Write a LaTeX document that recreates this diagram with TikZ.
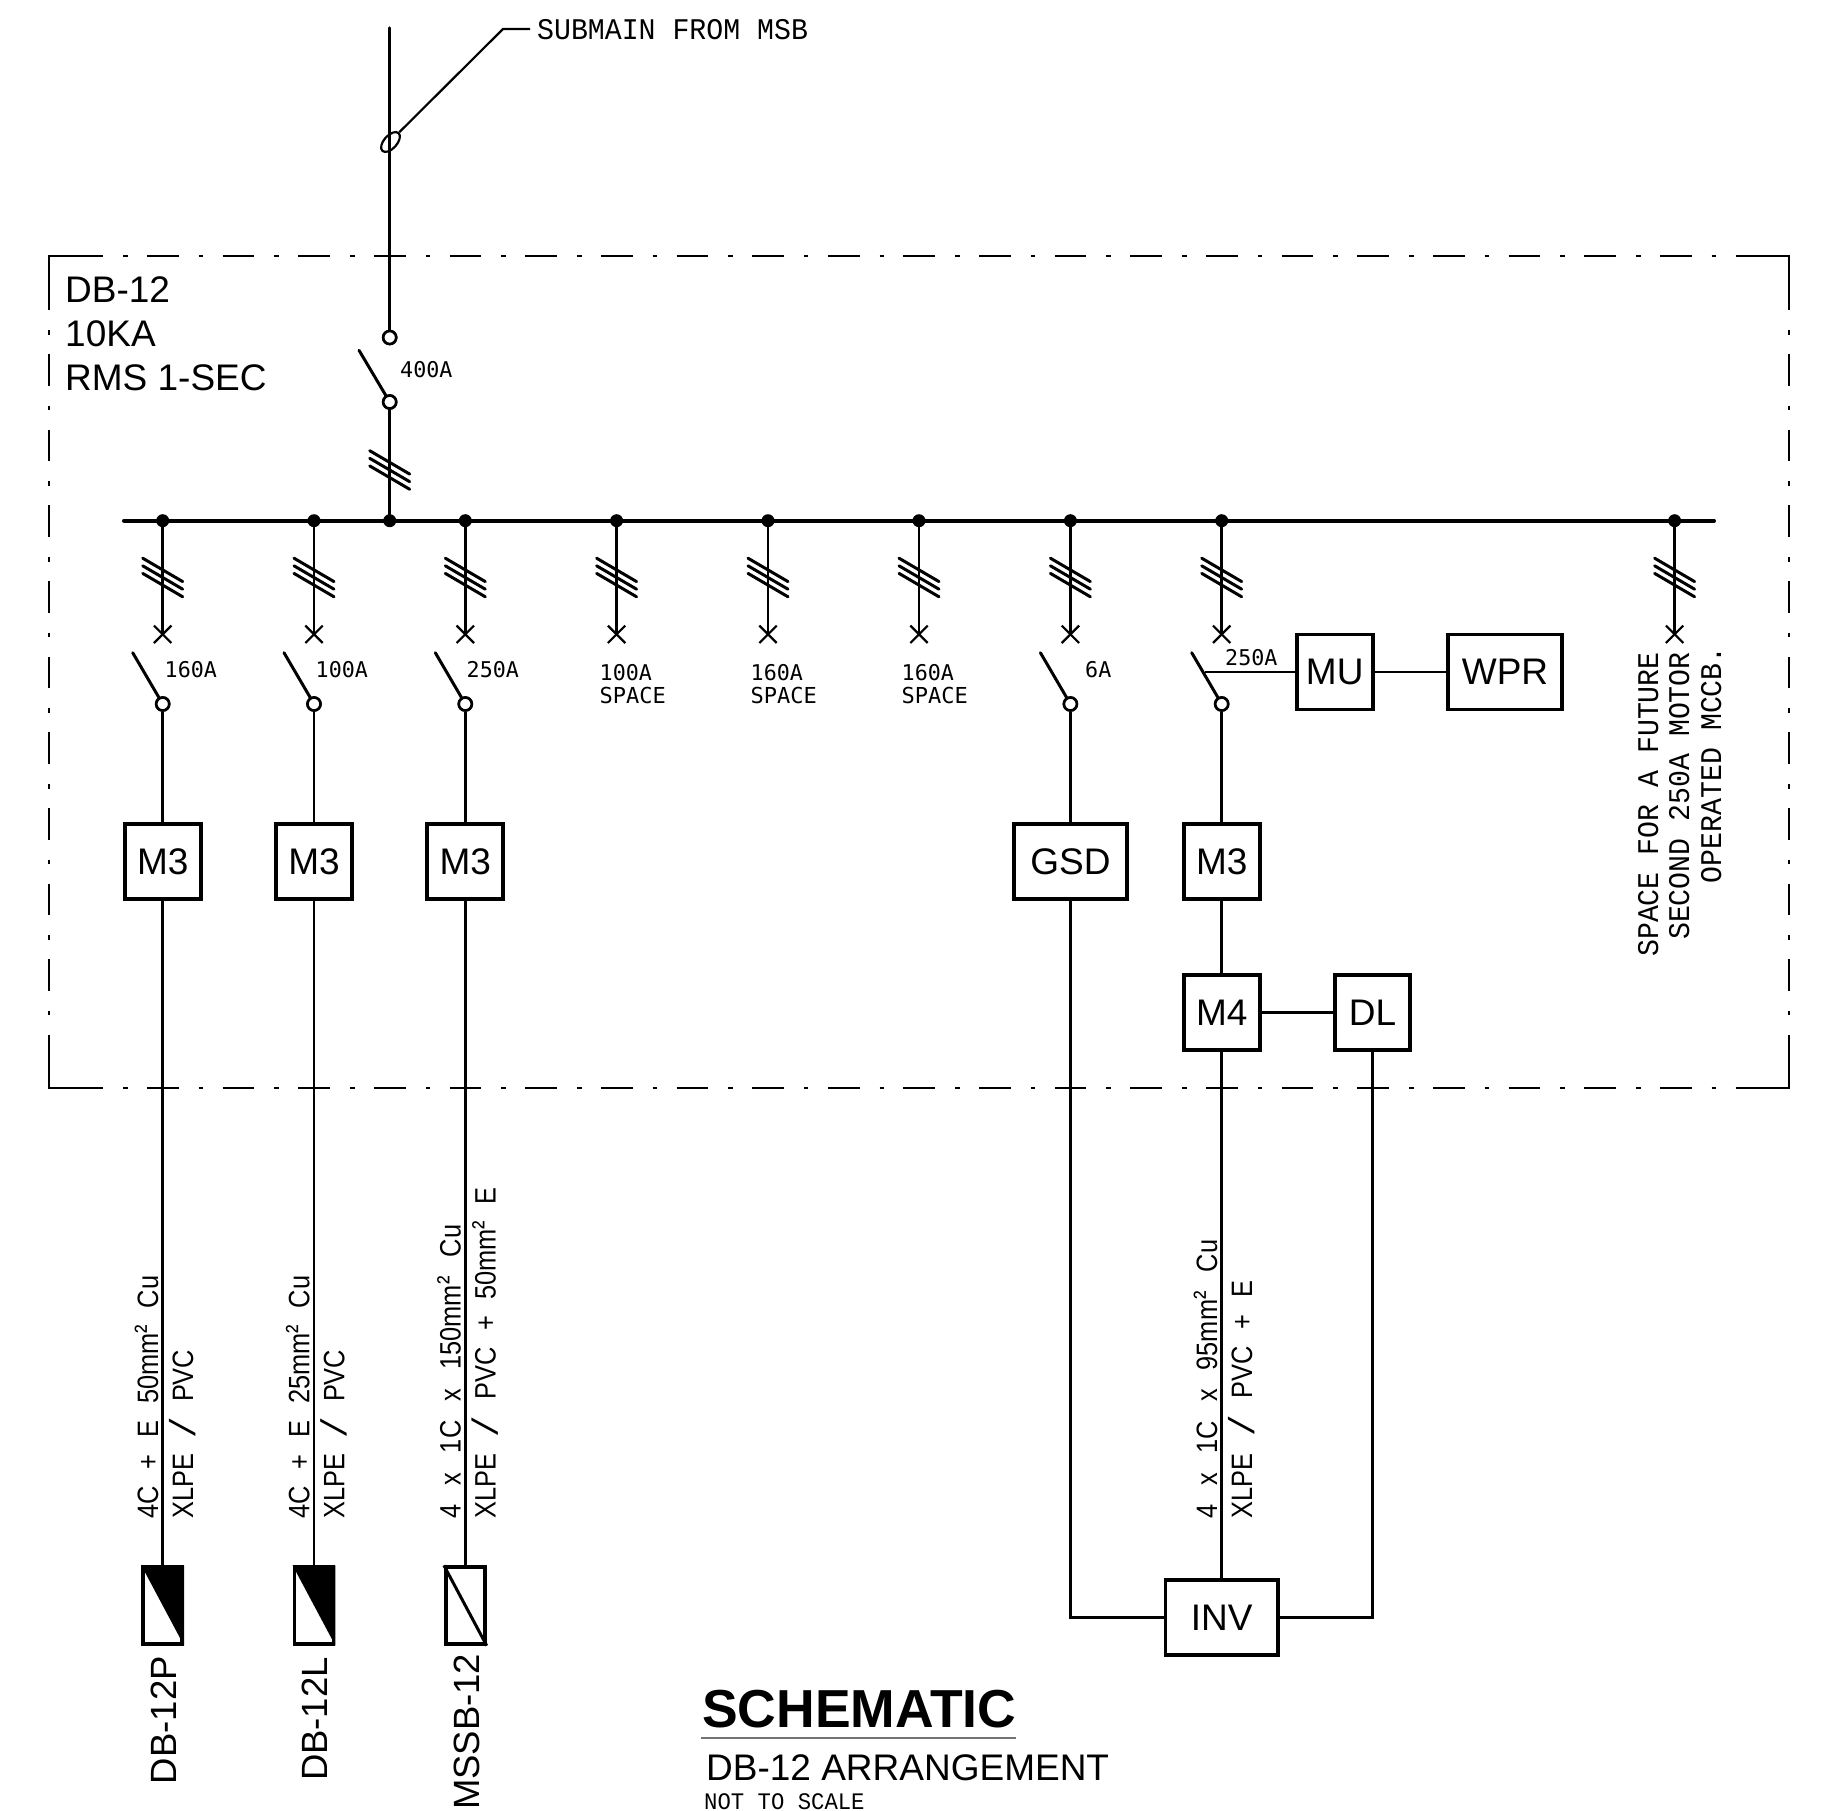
\documentclass[tikz,border=0pt]{standalone}
\usepackage{fontspec}
\usetikzlibrary{shapes.geometric,calc}
\setmainfont{Liberation Sans}
\newfontfamily\cadfont{DejaVu Sans Mono}
\newfontfamily\thinfont[FakeStretch=0.94]{Liberation Mono}
\newfontfamily\slashfont{Liberation Mono}
\newfontfamily\narrowfont[FakeStretch=0.86]{Liberation Sans}
\newcommand{\fs}[1]{\fontsize{#1}{#1}\selectfont}
\newcommand{\cabtext}[2]{\makebox[#1pt][s]{#2}}
\newcommand{\bigslash}{\raisebox{-2pt}{\slashfont\fs{36}/}}
\newcommand{\sqr}{\raisebox{3pt}{²}}
\tikzset{
  x=1pt,y=-1pt,
  panelline/.style={line width=2pt,dash pattern=on 31.7pt off 20pt on 4.6pt off 19.35pt},
  panelstub/.style={line width=2pt},
  busbar/.style={line width=4pt,line cap=round},
  mainfeed/.style={line width=3.5pt,line cap=round},
  feeder/.style={line width=2.6pt},
  slash/.style={line width=3pt,line cap=round},
  blade/.style={line width=3pt,line cap=round},
  xmark/.style={line width=2.2pt},
  busdot/.style={circle,fill=black,inner sep=0pt,minimum size=13pt},
  swdot/.style={circle,draw=black,fill=white,line width=2.6pt,inner sep=0pt,minimum size=13pt},
  devbox/.style={draw=black,fill=white,line width=3.8pt,inner sep=0pt,minimum height=75pt,font=\fs{37}},
  termbox/.style={draw=black,fill=white,line width=3.8pt,inner sep=0pt,minimum width=39pt,minimum height=76.5pt},
  cadsmall/.style={inner sep=0pt,font=\cadfont\fs{21.7},anchor=base west},
  cadbig/.style={inner sep=0pt,font=\thinfont\fs{30}},
  cable/.style={inner sep=0pt,rotate=90,anchor=base west,font=\narrowfont\fs{29.5}},
  dblabel/.style={inner sep=0pt,rotate=90,anchor=base east,font=\fs{36.5}},
  boardtext/.style={inner sep=0pt,anchor=base west,font=\fs{37}},
}
\begin{document}
\begin{tikzpicture}
\useasboundingbox (0,0) rectangle (1826,1811);

% panel outline
\coordinate (pTL) at (49,256);
\coordinate (pTR) at (1788.5,256);
\coordinate (pBR) at (1788.5,1088);
\coordinate (pBL) at (49,1088);
\draw[panelstub,line cap=rect] ($(pBL)+(0,-30)$) -- (pBL) -- ($(pBL)+(30,0)$);
\draw[panelstub,line cap=rect] ($(pTL)+(0,30)$) -- (pTL) -- ($(pTL)+(30,0)$);
\draw[panelstub,line cap=rect] ($(pTR)+(0,30)$) -- (pTR) -- ($(pTR)+(-30,0)$);
\draw[panelstub,line cap=rect] ($(pBR)+(0,-30)$) -- (pBR) -- ($(pBR)+(-30,0)$);
\draw[panelline] ($(pTL)+(22.3,0)$) -- ($(pTR)+(-20,0)$);
\draw[panelline] ($(pBL)+(22.3,0)$) -- ($(pBR)+(-20,0)$);
\draw[panelline] ($(pTL)+(0,22.3)$) -- ($(pBL)+(0,-20)$);
\draw[panelline] ($(pTR)+(0,22.3)$) -- ($(pBR)+(0,-20)$);

% incoming
\coordinate (top) at (389.7,28);
\node[swdot] (inA) at (389.7,337.5) {};
\node[swdot] (inB) at (389.7,402) {};
\coordinate (bus) at (389.7,520.7);
\draw[mainfeed] (top) -- (inA);
\draw[mainfeed] (inB) -- (bus);
\draw[blade] ($(inB)+(-30.7,-51.7)$) -- (inB);
\node[swdot] at (inB) {};
\node[swdot] at (inA) {};
\node[draw=black,line width=2.2pt,ellipse,rotate=48,minimum width=24pt,minimum height=13pt,inner sep=0pt] (ct) at (390.5,142) {};
\coordinate (knee) at (503,29);
\coordinate (leadend) at (530,29);
\draw[line width=2.2pt] (ct.east) -- (knee) -- (leadend);
\foreach \d in {-7.6,0,7.6}{\draw[slash] ($(389.7,470)+(-20,-11.7+\d)$) -- ($(389.7,470)+(20,11.7+\d)$);}
\node[cadbig,anchor=base west] (lead) at (537,40) {SUBMAIN FROM MSB};
\node[cadsmall] (l400) at (400,377) {400A};

% bus
\coordinate (busL) at (124,520.7);
\coordinate (busR) at (1714,520.7);
\draw[busbar] (busL) -- (busR);
\node[busdot] (dot0) at (bus) {};

% branches
\foreach \n/\xx in {1/162.7,2/314,3/465.3,4/616.6,5/768,6/919,7/1070.4,8/1221.7,9/1674.6}{
  \node[busdot] (dot\n) at (\xx,520.7) {};
  \coordinate (xm\n) at (\xx,634.3);
  \draw[feeder] (dot\n) -- (xm\n);
  \draw[xmark] ($(xm\n)+(-8.7,-8.7)$) -- ($(xm\n)+(8.7,8.7)$);
  \draw[xmark] ($(xm\n)+(8.7,-8.7)$) -- ($(xm\n)+(-8.7,8.7)$);
  \foreach \d in {-7.6,0,7.6}{\draw[slash] ($(\xx,577.5)+(-20,-11.7+\d)$) -- ($(\xx,577.5)+(20,11.7+\d)$);}
}
% switches
\foreach \n/\xx in {1/162.7,2/314,3/465.3,7/1070.4,8/1221.7}{
  \node[swdot] (sw\n) at (\xx,704) {};
  \draw[blade] ($(sw\n)+(-30,-51.3)$) -- (sw\n);
  \node[swdot] at (sw\n) {};
}
% rating labels
\node[cadsmall] (r1) at (164.5,677) {160A};
\node[cadsmall] (r2) at (315.5,677) {100A};
\node[cadsmall] (r3) at (466.5,677) {250A};
\node[cadsmall] (r7) at (1085,677) {6A};
\node[cadsmall] (r8) at (1225,665) {250A};
\foreach \xx/\t in {599.5/100A,750.5/160A,901.5/160A}{
  \node[cadsmall] at (\xx,680) {\t};
  \node[cadsmall,font=\cadfont\fs{22}] at (\xx,703) {SPACE};
}

% devices
\node[devbox,minimum width=76pt] (m1) at (162.7,861.5) {M3};
\node[devbox,minimum width=76pt] (m2) at (314,861.5) {M3};
\node[devbox,minimum width=76pt] (m3) at (465.3,861.5) {M3};
\node[devbox,minimum width=112.5pt] (gsd) at (1070.4,861.5) {GSD};
\node[devbox,minimum width=76pt] (m8) at (1221.7,861.5) {M3};
\node[devbox,minimum width=76pt] (m4) at (1221.7,1012.5) {M4};
\node[devbox,minimum width=75.5pt] (dl) at (1372.5,1012.5) {DL};
\node[devbox,minimum width=76pt] (mu) at (1334.7,672) {MU};
\node[devbox,minimum width=113.5pt] (wpr) at (1505,672) {WPR};
\node[devbox,minimum width=112.5pt] (inv) at (1221.7,1617.5) {INV};
\node[termbox] (t1) at (162.7,1605.5) {};
\node[termbox] (t2) at (314,1605.5) {};
\node[termbox] (t3) at (465.3,1605.5) {};
\fill (t1.north west) -- (t1.north east) -- (t1.south east) -- cycle;
\fill (t2.north west) -- (t2.north east) -- (t2.south east) -- cycle;
\draw[line width=3pt] (t3.north west) -- (t3.south east);

% connectors
\draw[feeder] (sw1) -- (m1);
\draw[feeder] (sw2) -- (m2);
\draw[feeder] (sw3) -- (m3);
\draw[feeder] (sw7) -- (gsd);
\draw[feeder] (sw8) -- (m8);
\draw[feeder] (m1) -- (t1);
\draw[feeder] (m2) -- (t2);
\draw[feeder] (m3) -- (t3);
\draw[feeder] (m8) -- (m4);
\draw[feeder] (m4) -- (dl);
\draw[feeder] (m4) -- (inv);
\draw[feeder] (gsd) |- (inv);
\draw[feeder] (dl) |- (inv);
\coordinate (tap) at (1205,672);
\draw[feeder] (tap) -- (mu);
\draw[feeder] (mu) -- (wpr);

% cable labels
\node[cable] (c1a) at (158,1518.5) {\cabtext{242.5}{4C \ + \ E \ 50mm\sqr{} \ Cu}};
\node[cable] (c1b) at (193,1518.5) {\cabtext{168.5}{XLPE \ \bigslash{} \ PVC}};
\node[cable] (c2a) at (309.3,1518.5) {\cabtext{242.5}{4C \ + \ E \ 25mm\sqr{} \ Cu}};
\node[cable] (c2b) at (344.3,1518.5) {\cabtext{168.5}{XLPE \ \bigslash{} \ PVC}};
\node[cable] (c3a) at (460.6,1518.5) {\cabtext{293.5}{4 \ x \ 1C \ x \ 150mm\sqr{} \ Cu}};
\node[cable] (c3b) at (495.6,1518.5) {\cabtext{330.5}{XLPE \ \bigslash{} \ PVC \ + \ 50mm\sqr{} \ E}};
\node[cable] (c8a) at (1217,1518.5) {\cabtext{278.5}{4 \ x \ 1C \ x \ 95mm\sqr{} \ Cu}};
\node[cable] (c8b) at (1252,1518.5) {\cabtext{237.5}{XLPE \ \bigslash{} \ PVC \ + \ E}};

% destinations
\node[dblabel] (d1) at (176,1656) {DB-12P};
\node[dblabel] (d2) at (327,1657) {DB-12L};
\node[dblabel] (d3) at (479,1653.5) {MSSB-12};

% board title
\node[boardtext] (b1) at (65,302.5) {DB-12};
\node[boardtext] (b2) at (65,346) {10KA};
\node[boardtext] (b3) at (65,390) {RMS 1-SEC};

% side note
\node[cadbig,rotate=90,anchor=base east] (n1) at (1658,652) {SPACE FOR A FUTURE};
\node[cadbig,rotate=90,anchor=base east] (n2) at (1689,652) {SECOND 250A MOTOR};
\node[cadbig,rotate=90,anchor=base east] (n3) at (1721,646) {OPERATED MCCB.};

% title
\node[inner sep=0pt,anchor=base west,font=\bfseries\fs{53.5}] (title) at (702,1727) {SCHEMATIC};
\coordinate (ruleL) at (701,1738);
\coordinate (ruleR) at (1016,1738);
\draw[line width=1.8pt,black!55] (ruleL) -- (ruleR);
\node[inner sep=0pt,anchor=base west,font=\fs{37}] (sub) at (706,1780) {DB-12 ARRANGEMENT};
\node[inner sep=0pt,anchor=base west,font=\thinfont\fs{23.7}] (nts) at (704,1809) {NOT TO SCALE};
\end{tikzpicture}
\end{document}
